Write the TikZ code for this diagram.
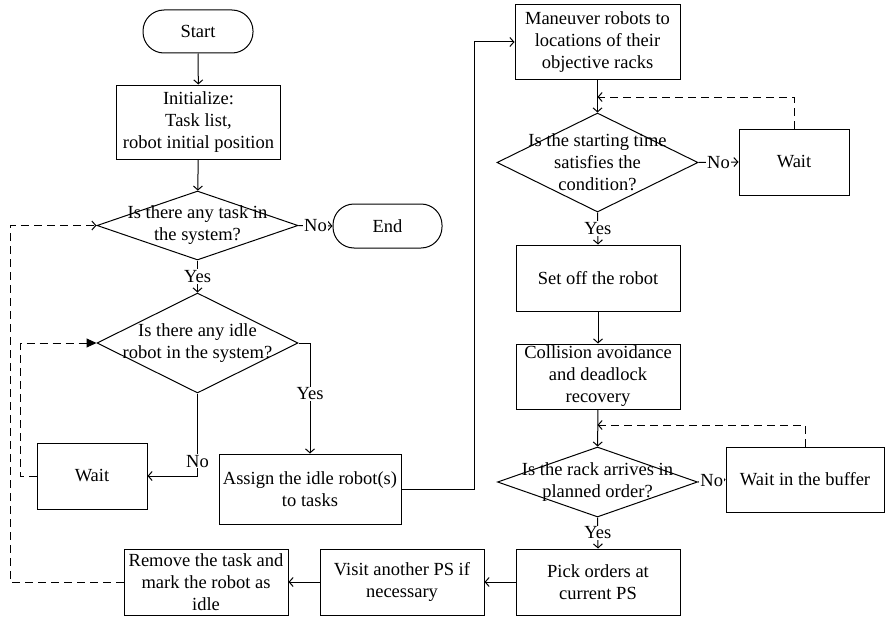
\documentclass[tikz,border=0pt]{standalone}
\usepackage{fontspec}
\setmainfont{Liberation Serif}
\usetikzlibrary{shapes.geometric,arrows.meta,calc}
\tikzset{
 base/.style={draw, line width=1pt, align=center, inner sep=2pt},
 proc/.style 2 args={base, rectangle, minimum width=#1, minimum height=#2},
 term/.style 2 args={base, rectangle, rounded corners=21pt, minimum width=#1, minimum height=#2},
 dia/.style 2 args={draw, line width=1pt, diamond, inner sep=0pt, minimum width=#1, minimum height=#2},
 lbl/.style={align=center, inner sep=0pt},
 lab/.style={fill=white, inner sep=1pt},
 conn/.style={line width=1pt, -{Straight Barb[length=4pt,width=9pt]}},
 dconn/.style={conn, dash pattern=on 8pt off 5pt},
}
\begin{document}
\begin{tikzpicture}[x=1pt,y=-1pt,font=\fontsize{18.5}{22}\selectfont]
\useasboundingbox (0,0) rectangle (888,618);
% left column
\node[term={110}{43}] (start) at (198,31.5) {Start};
\node[proc={164}{74}] (init) at (198.5,122) {Initialize:\\Task list,\\robot initial position};
\node[dia={201}{69}] (d1) at (197.5,225.5) {};
\node[lbl] (d1t) at (d1) {Is there any task in\\the system?};
\node[term={109}{44}] (end) at (387.5,226) {End};
\node[dia={201}{100}] (d2) at (197.5,343) {};
\node[lbl] (d2t) at (d2) {Is there any idle\\robot in the system?};
\node[proc={110}{66}] (wait1) at (92,476) {Wait};
\node[proc={182}{70}] (assign) at (310,489) {Assign the idle robot(s)\\to tasks};
% bottom row
\node[proc={164}{66}] (remove) at (206,582) {Remove the task and\\mark the robot as\\idle};
\node[proc={164}{66}] (visit) at (402,582) {Visit another PS if\\necessary};
\node[proc={164}{66}] (pick) at (598,582) {Pick orders at\\current PS};
% right column
\node[proc={165}{74}] (man) at (597.5,42) {Maneuver robots to\\locations of their\\objective racks};
\node[dia={201}{99}] (d3) at (597.5,162.5) {};
\node[lbl] (d3t) at (d3) {Is the starting time\\satisfies the\\condition?};
\node[proc={110}{66}] (waitA) at (794,162) {Wait};
\node[proc={164}{66}] (setoff) at (598,278) {Set off the robot};
\node[proc={164}{65}] (coll) at (598,376.5) {Collision avoidance\\and deadlock\\recovery};
\node[dia={200}{70}] (d4) at (597.5,482) {};
\node[lbl] (d4t) at (d4) {Is the rack arrives in\\planned order?};
\node[proc={158}{65}] (waitB) at (805,479.5) {Wait in the buffer};
\coordinate (j1) at (597.5,97);
\coordinate (j2) at (597.5,425);
\coordinate (c1) at (474,489);
\coordinate (c2) at (10,582);
\coordinate (c3) at (20,476);
% connectors
\draw[conn] (start) -- (init);
\draw[conn] (init) -- (d1);
\draw[conn] (d1.east) -- node[lab]{No} (end.west);
\draw[conn] (d1.south) -- node[lab]{Yes} (d2.north);
\draw[conn] (d2.east) -| node[lab,pos=0.73]{Yes} (assign.north);
\draw[conn] (d2.south) |- node[lab,pos=0.41]{No} (wait1.east);
\draw[conn] (assign.east) -- (c1) |- (man.west);
\draw[conn] (man) -- (d3);
\draw[conn] (d3.east) -- node[lab]{No} (waitA.west);
\draw[dconn] (waitA.north) |- (j1);
\draw[conn] (d3.south) -- node[lab]{Yes} (setoff.north);
\draw[conn] (setoff) -- (coll);
\draw[conn] (coll) -- (d4);
\draw[conn] (d4.east) -- node[lab]{No} (waitB.west);
\draw[dconn] (waitB.north) |- (j2);
\draw[conn] (d4.south) -- node[lab]{Yes} (pick.north);
\draw[conn] (pick) -- (visit);
\draw[conn] (visit) -- (remove);
\draw[dconn] (remove.west) -- (c2) |- (d1.west);
\draw[line width=1pt, dash pattern=on 8pt off 5pt, -{Triangle[length=10pt,width=9pt]}] (wait1.west) -- (c3) |- (d2.west);
\end{tikzpicture}
\end{document}
